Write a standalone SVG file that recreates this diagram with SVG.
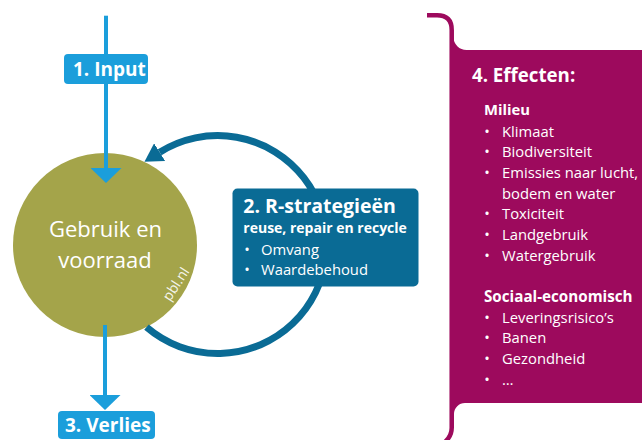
<svg xmlns="http://www.w3.org/2000/svg" width="642" height="440" viewBox="0 0 642 440">
  <style>
    text { font-family: "Open Sans", "Liberation Sans", sans-serif; fill: #ffffff; }
    .title { font-weight: bold; font-size: 19px; }
    .sub { font-weight: bold; font-size: 14.8px; }
    .item { font-size: 14.8px; }
    .bul { font-size: 14.8px; text-anchor: middle; }
    .circ { font-size: 22px; text-anchor: middle; }
    .light { fill: #1b9edb; }
    .dark { fill: #0a6b95; }
  </style>
  <defs>
    <marker id="arrLight" markerUnits="userSpaceOnUse" viewBox="0 0 15 31" markerWidth="15" markerHeight="31" refX="0" refY="15.5" orient="auto">
      <path d="M0,0 L15,15.5 L0,31 Z" fill="#1b9edb"/>
    </marker>
    <marker id="arrDark" markerUnits="userSpaceOnUse" viewBox="0 0 18 21" markerWidth="18" markerHeight="21" refX="0" refY="10.5" orient="auto">
      <path d="M0,0 L18,10.5 L0,21 Z" fill="#0a6b95"/>
    </marker>
  </defs>

  <g id="node-gebruik">
    <circle cx="105" cy="245" r="92" fill="#a4a44a"/>
    <text class="circ" x="105.5" y="237">Gebruik en</text>
    <text class="circ" x="105" y="267.5">voorraad</text>
    <text x="0" y="0" font-size="14" fill-opacity="0.9" transform="translate(170,302) rotate(-57)">pbl.nl</text>
  </g>

  <g id="connectors" fill="none">
    <path id="c-rloop" d="M146.5,327.1 A109,109 0 1 0 159.7,152.2" stroke="#0a6b95" stroke-width="7" marker-end="url(#arrDark)"/>
    <path id="c-input" d="M106,15.7 V168" stroke="#1b9edb" stroke-width="4" marker-end="url(#arrLight)"/>
    <path id="c-verlies" d="M105,325 V395" stroke="#1b9edb" stroke-width="4" marker-end="url(#arrLight)"/>
  </g>

  <g id="node-input">
    <rect class="light" x="64" y="54" width="84" height="30" rx="4"/>
    <text class="title" x="73" y="76" font-size="18.5">1. Input</text>
  </g>

  <g id="node-verlies">
    <rect class="light" x="58" y="411" width="97" height="28" rx="4"/>
    <text class="title" x="65" y="432">3. Verlies</text>
  </g>

  <g id="node-rstrategieen">
    <rect class="dark" x="232.5" y="188.5" width="186" height="98" rx="5"/>
    <text class="title" x="243.3" y="213.3" style="font-size:19.5px">2. R-strategieën</text>
    <text class="sub" x="243.3" y="233.3" style="font-size:14px">reuse, repair en recycle</text>
    <text class="bul" x="247" y="255">•</text>
    <text class="item" x="261" y="255">Omvang</text>
    <text class="bul" x="247" y="274.5">•</text>
    <text class="item" x="261" y="274.5">Waardebehoud</text>
  </g>

  <g id="node-effecten">
    <path d="M427,15.3 H437 Q451.7,15.3 451.7,30 V428 Q451.7,436 445,442" fill="none" stroke="#9d0a5d" stroke-width="4.5"/>
    <path d="M450,30 H453.5 V37 A13,13 0 0 0 466.5,50 H642 V403 H465 A11,11 0 0 0 454,414 V428 H450 Z" fill="#9d0a5d"/>
    <text class="title" x="472" y="82" style="font-size:18.7px">4. Effecten:</text>
    <text class="sub" x="484" y="115">Milieu</text>
    <text class="bul" x="487" y="136.5">•</text>
    <text class="item" x="502" y="136.5">Klimaat</text>
    <text class="bul" x="487" y="157.2">•</text>
    <text class="item" x="502" y="157.2">Biodiversiteit</text>
    <text class="bul" x="487" y="177.8">•</text>
    <text class="item" x="502" y="177.8">Emissies naar lucht,</text>
    <text class="item" x="502" y="198.5">bodem en water</text>
    <text class="bul" x="487" y="219.2">•</text>
    <text class="item" x="502" y="219.2">Toxiciteit</text>
    <text class="bul" x="487" y="239.8">•</text>
    <text class="item" x="502" y="239.8">Landgebruik</text>
    <text class="bul" x="487" y="260.5">•</text>
    <text class="item" x="502" y="260.5">Watergebruik</text>
    <text class="sub" x="484" y="301.5" style="font-size:15.2px">Sociaal-economisch</text>
    <text class="bul" x="487" y="322.5">•</text>
    <text class="item" x="502" y="322.5">Leveringsrisico’s</text>
    <text class="bul" x="487" y="343.3">•</text>
    <text class="item" x="502" y="343.3">Banen</text>
    <text class="bul" x="487" y="364">•</text>
    <text class="item" x="502" y="364">Gezondheid</text>
    <text class="bul" x="487" y="385">•</text>
    <text class="item" x="502" y="385">…</text>
  </g>
</svg>
